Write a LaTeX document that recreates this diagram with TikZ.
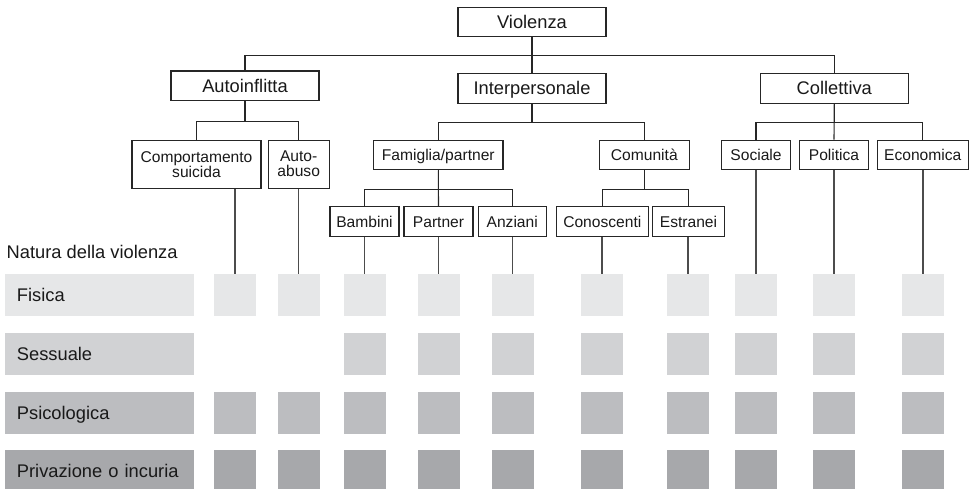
\documentclass[tikz,border=0pt]{standalone}
\usepackage{fontspec}
\setmainfont{Liberation Sans}
\usetikzlibrary{calc,positioning}
\definecolor{fis}{RGB}{230,231,232}
\definecolor{ses}{RGB}{209,210,212}
\definecolor{psi}{RGB}{188,189,192}
\definecolor{pri}{RGB}{167,168,171}
\newcommand\lvlfont{\fontsize{18.3}{20}\selectfont}
\newcommand\subfont{\fontsize{15.6}{15}\selectfont}

\begin{document}
\begin{tikzpicture}[x=1pt,y=-1pt]
\tikzstyle{every node}=[inner sep=0pt, text=black!90]
\tikzstyle{lvl}=[draw=black!85, line width=1.1pt, minimum width=148pt,
                 minimum height=29.5pt, font=\lvlfont, text height=13.1pt, text depth=0pt]
\tikzstyle{sub}=[draw=black!85, line width=1.1pt, minimum height=29.7pt,
                 font=\subfont, text height=11.2pt, text depth=0pt]
\tikzstyle{two}=[draw=black!85, line width=1.1pt, minimum height=48.3pt,
                 font=\subfont, align=center]
\tikzstyle{bar}=[anchor=west, minimum height=42pt, text width=164.9pt, inner xsep=11.7pt,
                 align=left, font=\lvlfont, text height=13.1pt, text depth=0pt]
\tikzstyle{cell}=[minimum size=42pt]
\tikzstyle{link}=[draw=black!85, line width=1.1pt]
\tikzstyle{leaf}=[draw=black!70, line width=1.1pt]
\useasboundingbox (0,0) rectangle (970,488);
\node[lvl] (viol) at (532,22) {Violenza};
\node[lvl] (auto) at (245,85.7) {Autoinflitta};
\node[lvl] (inter) at (532,88.3) {Interpersonale};
\node[lvl] (coll) at (834.3,88.3) {Collettiva};
\node[two, minimum width=129pt] (suic) at (196.5,164.2) {Comportamento\\suicida};
\node[two, minimum width=60.7pt] (abus) at (298.7,164.2) {Auto-\\abuso};
\node[sub, minimum width=129.3pt] (fam) at (438.3,155) {Famiglia/partner};
\node[sub, minimum width=90pt] (com) at (644.3,155) {Comunità};
\node[sub, minimum width=69pt] (soc) at (756,155) {Sociale};
\node[sub, minimum width=69pt] (pol) at (834,155) {Politica};
\node[sub, minimum width=91.3pt] (eco) at (922.7,155) {Economica};
\node[sub, minimum width=69pt] (bam) at (364.5,221.5) {Bambini};
\node[sub, minimum width=69pt] (par) at (438.5,221.5) {Partner};
\node[sub, minimum width=67.7pt] (anz) at (512.2,221.5) {Anziani};
\node[sub, minimum width=92pt] (con) at (602.3,221.5) {Conoscenti};
\node[sub, minimum width=72.4pt] (est) at (688.5,221.5) {Estranei};
\node[anchor=base west, font=\lvlfont] (nat) at (6.5,258) {Natura della violenza};
\node[bar, fill=fis] (fisica) at (5,295) {Fisica};
\node[bar, fill=ses] (sess) at (5,353.7) {Sessuale};
\node[bar, fill=psi] (psic) at (5,412.5) {Psicologica};
\node[bar, fill=pri] (priv) at (5,471) {Privazione o incuria};
\foreach \x [count=\c] in {235,298.5,364.7,438.5,512.7,602,688,756,834,923}{
  \node[cell, fill=fis] (s1-\c) at (\x,295) {};
  \ifnum\c>2 \node[cell, fill=ses] (s2-\c) at (\x,353.7) {}; \fi
  \node[cell, fill=psi] (s3-\c) at (\x,412.5) {};
  \node[cell, fill=pri] (s4-\c) at (\x,471) {};
}
\draw[link] (viol.south) -- ++(0,18) -| (auto.north);
\draw[link] (viol.south) -- (inter.north);
\draw[link] (viol.south) -- ++(0,18) -| (coll.north);
\draw[link] (auto.south) -- ++(0,20.7) -| (suic.north);
\draw[link] (auto.south) -- ++(0,20.7) -| (abus.north);
\draw[link] (inter.south) -- ++(0,18.7) -| (fam.north);
\draw[link] (inter.south) -- ++(0,18.7) -| (com.north);
\draw[link] (coll.south) -- ++(0,18.7) -| (soc.north);
\draw[link] (coll.south) -- (pol.north);
\draw[link] (coll.south) -- ++(0,18.7) -| (eco.north);
\draw[link] (fam.south) -- ++(0,19) -| (bam.north);
\draw[link] (fam.south) -- (par.north);
\draw[link] (fam.south) -- ++(0,19) -| (anz.north);
\draw[link] (com.south) -- ++(0,19) -| (con.north);
\draw[link] (com.south) -- ++(0,19) -| (est.north);
\foreach \n [count=\c] in {suic,abus,bam,par,anz,con,est,soc,pol,eco}
  \draw[leaf] (s1-\c.north |- \n.south) -- (s1-\c.north);
\end{tikzpicture}
\end{document}
